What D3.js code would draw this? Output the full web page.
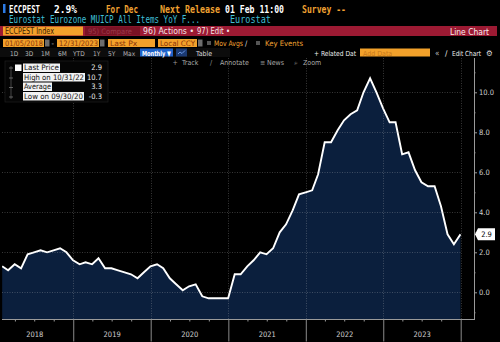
<!DOCTYPE html>
<html><head><meta charset="utf-8">
<script src="https://cdn.jsdelivr.net/npm/d3@7"></script>
<style>html,body{margin:0;padding:0;background:#000;overflow:hidden}</style>
</head><body>
<script>
// ---- data ----
const startMonth = new Date(2018, 1, 1); // month-end points: Jan 2018 ... Dec 2023
const values = [
  1.3, 1.1, 1.4, 1.2, 1.9, 2.0, 2.1, 2.0, 2.1, 2.2, 2.0, 1.6,   // 2018
  1.4, 1.5, 1.4, 1.7, 1.2, 1.2, 1.1, 1.0, 0.9, 0.7, 1.0, 1.3,   // 2019
  1.4, 1.2, 0.7, 0.4, 0.1, 0.3, 0.4, -0.2, -0.3, -0.3, -0.3, -0.3, // 2020
  0.9, 0.9, 1.3, 1.6, 2.0, 1.9, 2.2, 3.0, 3.4, 4.1, 4.9, 5.0,   // 2021
  5.1, 5.9, 7.5, 7.5, 8.1, 8.6, 8.9, 9.1, 10.0, 10.7, 10.0, 9.2, // 2022
  8.5, 8.5, 6.9, 7.0, 6.1, 5.5, 5.3, 5.3, 4.3, 2.9, 2.4, 2.9    // 2023
];
const years = [2018, 2019, 2020, 2021, 2022, 2023];
const yMajorTicks = [0, 2, 4, 6, 8, 10];
const yMinorTicks = [-1, 1, 3, 5, 7, 9, 11];
const legendLabels = ["Last Price", "High on 10/31/22", "Average", "Low on 09/30/20"];
const legendValues = ["2.9", "10.7", "3.3", "-0.3"];
const lastPrice = 2.9;

const dates = values.map((v, i) => d3.timeDay.offset(d3.timeMonth.offset(startMonth, i), -1));
const data = dates.map((d, i) => ({date: d, value: values[i]}));

// ---- layout ----
const W = 500, H = 342;
const plot = {left: 2, right: 461, top: 58, bottom: 319.5};
const axisX = 474;

const svg = d3.select("body").append("svg").attr("width", W).attr("height", H)
  .style("display", "block");
svg.append("rect").attr("width", W).attr("height", H).attr("fill", "#000");

const x = d3.scaleTime()
  .domain([new Date(2018, 0, 1), new Date(2024, 0, 1)])
  .range([-4.2, 460.7]);
const y = d3.scaleLinear().domain([0, 10]).range([292.3, 92.3]);

const ORANGE = "#f0a232", CYAN = "#3fbfd6", MONO = "'DejaVu Sans Mono', monospace",
      SANS = "'DejaVu Sans Condensed','DejaVu Sans',sans-serif";

function txt(g, xx, yy, s, o = {}) {
  let host = g, tx = xx, ty = yy;
  if (o.sy) {
    host = g.append("g").attr("transform", `translate(${xx},${yy}) scale(1,${o.sy})`);
    tx = 0; ty = 0;
  }
  const t = host.append("text").attr("x", tx).attr("y", ty).text(s)
    .attr("fill", o.fill || "#fff")
    .attr("font-family", o.family || SANS)
    .attr("font-size", o.size || 7)
    .attr("font-weight", o.weight || "normal");
  if (o.len) t.attr("textLength", o.len).attr("lengthAdjust", "spacingAndGlyphs");
  if (o.anchor) t.attr("text-anchor", o.anchor);
  return t;
}

// ---- header ----
const hdr = svg.append("g");
hdr.append("rect").attr("x", 3).attr("y", 4).attr("width", 2.5).attr("height", 9).attr("fill", "#2c7be5");
const H1 = {family: MONO, size: 8.2, sy: 1.2, weight: "bold"};
txt(hdr, 9, 12.5, "ECCPEST", {...H1, len: 31});
txt(hdr, 54, 12.5, "2.9%", {...H1, len: 23});
txt(hdr, 106, 12.5, "For Dec", {...H1, len: 32, fill: ORANGE});
txt(hdr, 160, 12.5, "Next Release", {...H1, len: 60, fill: ORANGE});
txt(hdr, 225, 12.5, "01 Feb 11:00", {...H1, len: 59});
txt(hdr, 302, 12.5, "Survey --", {...H1, len: 44, fill: ORANGE});
const H2 = {family: MONO, size: 7.6, sy: 1.3, fill: CYAN};
txt(hdr, 9, 22.5, "Eurostat Eurozone MUICP All Items YoY F...", {...H2, len: 191});
txt(hdr, 230, 22.5, "Eurostat", {...H2, len: 41});

// red bar
hdr.append("rect").attr("x", 0).attr("y", 26).attr("width", 497).attr("height", 10).attr("fill", "#9c1a33");
hdr.append("rect").attr("x", 3).attr("y", 26.5).attr("width", 80).attr("height", 9).attr("fill", "#f2a12b");
txt(hdr, 5, 34, "ECCPEST Index", {size: 8, len: 49, fill: "#3d1a00"});
hdr.append("rect").attr("x", 85).attr("y", 26.5).attr("width", 55).attr("height", 9).attr("fill", "#7a1224");
txt(hdr, 88, 34, "95) Compare", {size: 7.5, fill: "#9a3a4a"});
txt(hdr, 143, 34, "96) Actions \u2022", {size: 8, len: 51, fill: "#f4e6e8"});
txt(hdr, 197, 34, "97) Edit \u2022", {size: 8, len: 33, fill: "#f4e6e8"});
txt(hdr, 450, 34.5, "Line Chart", {size: 8.5, len: 39, fill: "#f8eef0"});

// row 4
const boxFill = "#f2a12b", boxText = "#8a3408";
[[3, 41, "01/05/2018"], [57, 42, "12/31/2023"], [108, 47, "Last Px"], [158, 39, "Local CCY"]].forEach(([bx, bw, s]) => {
  hdr.append("rect").attr("x", bx).attr("y", 39).attr("width", bw).attr("height", 8).attr("fill", boxFill);
  txt(hdr, bx + 2, 46, s, {size: 7.5, fill: boxText, len: Math.min(bw - 3, s.length * 3.9)});
});
[45, 100, 198].forEach(ix => hdr.append("rect").attr("x", ix).attr("y", 39.5).attr("width", 4.5).attr("height", 7).attr("fill", "#6d6d6d"));
txt(hdr, 51.5, 46, "-", {size: 7.5, fill: "#ccc"});
hdr.append("rect").attr("x", 207).attr("y", 41).attr("width", 4).attr("height", 4).attr("fill", "#555");
txt(hdr, 214, 46, "Mov Avgs", {size: 7.5, fill: ORANGE, len: 29});
txt(hdr, 245, 46, "/", {size: 7.5, fill: "#ddd"});
hdr.append("rect").attr("x", 256).attr("y", 41).attr("width", 4).attr("height", 4).attr("fill", "#555");
txt(hdr, 265, 46, "Key Events", {size: 7.5, fill: ORANGE, len: 38});

// row 5
hdr.append("rect").attr("x", 0).attr("y", 48).attr("width", 230).attr("height", 9).attr("fill", "#0c0c0c");
[["1D", 10], ["3D", 25], ["1M", 41], ["6M", 58], ["YTD", 73], ["1Y", 93], ["5Y", 108], ["Max", 123]].forEach(([s, bx]) =>
  txt(hdr, bx, 55.5, s, {size: 6.5, fill: "#b8b8b8"}));
hdr.append("rect").attr("x", 140).attr("y", 48.5).attr("width", 33).attr("height", 8).attr("fill", "#1f63c9");
txt(hdr, 142, 55.5, "Monthly \u25BC", {size: 7, fill: "#fff", weight: "bold", len: 29});
hdr.append("rect").attr("x", 176).attr("y", 48.5).attr("width", 11).attr("height", 8).attr("fill", "#1b3a73");
hdr.append("path").attr("d", "M178,54 l2,-2 l2,1.5 l3,-3").attr("stroke", "#7fb0ff").attr("fill", "none").attr("stroke-width", 0.8);
txt(hdr, 196, 55.5, "Table", {size: 7, fill: "#d8d8d8"});
txt(hdr, 314, 55.5, "+ Related Dat", {size: 7, fill: "#eee", len: 42});
hdr.append("rect").attr("x", 360).attr("y", 48.5).attr("width", 70).attr("height", 8).attr("fill", boxFill);
txt(hdr, 363, 55.5, "Add Data", {size: 7, fill: "#c8781a"});
txt(hdr, 435, 55.5, "\u00AB", {size: 8, fill: "#bbb"});
txt(hdr, 445, 55.5, "\u2215", {size: 8, fill: "#eee"});
txt(hdr, 452, 55.5, "Edit Chart", {size: 7, fill: "#eee", len: 29});
txt(hdr, 486, 56, "\u2699", {size: 8, fill: "#ddd"});

// ---- plot: area + line ----
svg.append("clipPath").attr("id", "pc").append("rect")
  .attr("x", plot.left).attr("y", plot.top).attr("width", plot.right - plot.left).attr("height", plot.bottom - plot.top);
const pg = svg.append("g").attr("clip-path", "url(#pc)");

const area = d3.area().x(d => x(d.date)).y0(plot.bottom).y1(d => y(d.value));
pg.append("path").datum(data).attr("d", area).attr("fill", "#0b1f3d");

// gridlines
const grid = svg.append("g").attr("stroke", "rgba(200,200,200,0.35)").attr("stroke-dasharray", "1,1.5").attr("stroke-width", 0.8);
yMajorTicks.forEach(v => grid.append("line").attr("x1", plot.left).attr("x2", plot.right)
  .attr("y1", Math.round(y(v)) + 0.5).attr("y2", Math.round(y(v)) + 0.5));
years.slice(1).concat([2024]).forEach(yr => {
  const gx = Math.round(x(new Date(yr, 0, 1))) + 0.5;
  grid.append("line").attr("x1", gx).attr("x2", gx).attr("y1", plot.top).attr("y2", plot.bottom);
});

const line = d3.line().x(d => x(d.date)).y(d => y(d.value));
pg.append("path").datum(data).attr("d", line).attr("fill", "none")
  .attr("stroke", "#fff").attr("stroke-width", 1.9).attr("stroke-linejoin", "miter");

// ---- right axis ----
const yAxisG = svg.append("g").attr("transform", `translate(${axisX},0)`);
const yAxis = d3.axisRight(y).tickValues(yMajorTicks).tickSize(3).tickSizeOuter(0).tickPadding(2)
  .tickFormat(d3.format(".1f"));
yAxisG.call(yAxis);
yAxisG.select(".domain").remove();
yAxisG.append("line").attr("x1", 0.5).attr("x2", 0.5).attr("y1", plot.top).attr("y2", plot.bottom).attr("stroke", "#9a9a9a");
yAxisG.selectAll(".tick line").attr("stroke", "#9a9a9a");
yAxisG.selectAll(".tick text").attr("fill", "#d0d0d0").attr("font-size", 7.5).attr("font-family", SANS);
const yMinor = svg.append("g").attr("transform", `translate(${axisX},0)`)
  .call(d3.axisRight(y).tickValues(yMinorTicks).tickSize(1.5).tickSizeOuter(0).tickFormat(""));
yMinor.select(".domain").remove();
yMinor.selectAll(".tick line").attr("stroke", "#9a9a9a");

// last price tag
const ly = y(lastPrice);
svg.append("path").attr("d", `M${axisX + 1},${ly} L${axisX + 4},${ly - 6} L${axisX + 21},${ly - 6} L${axisX + 21},${ly + 6} L${axisX + 4},${ly + 6} Z`)
  .attr("fill", "#fff");
txt(svg, axisX + 12.5, ly + 2.8, "2.9", {size: 7.5, fill: "#000", anchor: "middle"});

// ---- bottom axis ----
const xg = svg.append("g");
xg.append("line").attr("x1", plot.left).attr("x2", axisX + 1).attr("y1", plot.bottom).attr("y2", plot.bottom).attr("stroke", "#9a9a9a");
const quarterTicks = d3.timeMonth.every(3).range(new Date(2018, 3, 1), new Date(2024, 0, 1)).filter(d => d.getMonth() !== 0);
const xq = xg.append("g").attr("transform", `translate(0,${plot.bottom})`)
  .call(d3.axisBottom(x).tickValues(quarterTicks).tickSize(2).tickSizeOuter(0).tickFormat(""));
xq.select(".domain").remove();
xq.selectAll(".tick line").attr("stroke", "#9a9a9a");
const yearStarts = years.slice(1).concat([2024]).map(yr => new Date(yr, 0, 1));
const xy = xg.append("g").attr("transform", `translate(0,${plot.bottom})`)
  .call(d3.axisBottom(x).tickValues(yearStarts).tickSize(22).tickSizeOuter(0).tickFormat(""));
xy.select(".domain").remove();
xy.selectAll(".tick line").attr("stroke", "#8a8a8a");
const xl = xg.append("g").attr("transform", `translate(0,${plot.bottom})`)
  .call(d3.axisBottom(x).tickValues(years.map(yr => new Date(yr, 6, 1))).tickSize(0).tickPadding(12)
    .tickFormat(d3.timeFormat("%Y")));
xl.select(".domain").remove();
xl.selectAll(".tick text").attr("fill", "#d0d0d0").attr("font-size", 7.5).attr("font-family", SANS);

// ---- toolbar row over plot ----
const tb = svg.append("g");
[["+", 172.5, "#999"], ["Track", 182, "#aaa"], ["\u2215", 210, "#999"], ["Annotate", 220, "#aaa"],
 ["\u2261", 260, "#999"], ["News", 267, "#aaa"], ["\u2315", 294, "#999"], ["Zoom", 303, "#aaa"]].forEach(([s, bx, c]) =>
  txt(tb, bx, 65, s, {size: 7, fill: c}));

// ---- legend ----
const lg = svg.append("g");
lg.append("rect").attr("x", 5).attr("y", 61).attr("width", 103).attr("height", 41).attr("fill", "#050505").attr("stroke", "#222").attr("stroke-width", 0.6);
lg.append("line").attr("x1", 11).attr("x2", 11).attr("y1", 66).attr("y2", 99).attr("stroke", "#555").attr("stroke-width", 0.8);
[68, 78, 87.5, 97].forEach(cy => lg.append("line").attr("x1", 9).attr("x2", 13).attr("y1", cy).attr("y2", cy).attr("stroke", "#777").attr("stroke-width", 0.8));
lg.append("rect").attr("x", 15).attr("y", 64.5).attr("width", 6.5).attr("height", 6.5).attr("fill", "#fff");
const rowsY = [71, 80.5, 90, 99.5];
const boxW = [37, 62, 29, 61];
legendLabels.forEach((s, i) => {
  lg.append("rect").attr("x", 23).attr("y", rowsY[i] - 7.5).attr("width", boxW[i]).attr("height", 8.5).attr("fill", "#f2f2f2");
  txt(lg, 24, rowsY[i] - 0.8, s, {size: 7.5, fill: "#111", len: boxW[i] - 2});
  txt(lg, 102, rowsY[i] - 0.8, legendValues[i], {size: 7.5, fill: "#eee", anchor: "end"});
});
</script>
</body></html>
